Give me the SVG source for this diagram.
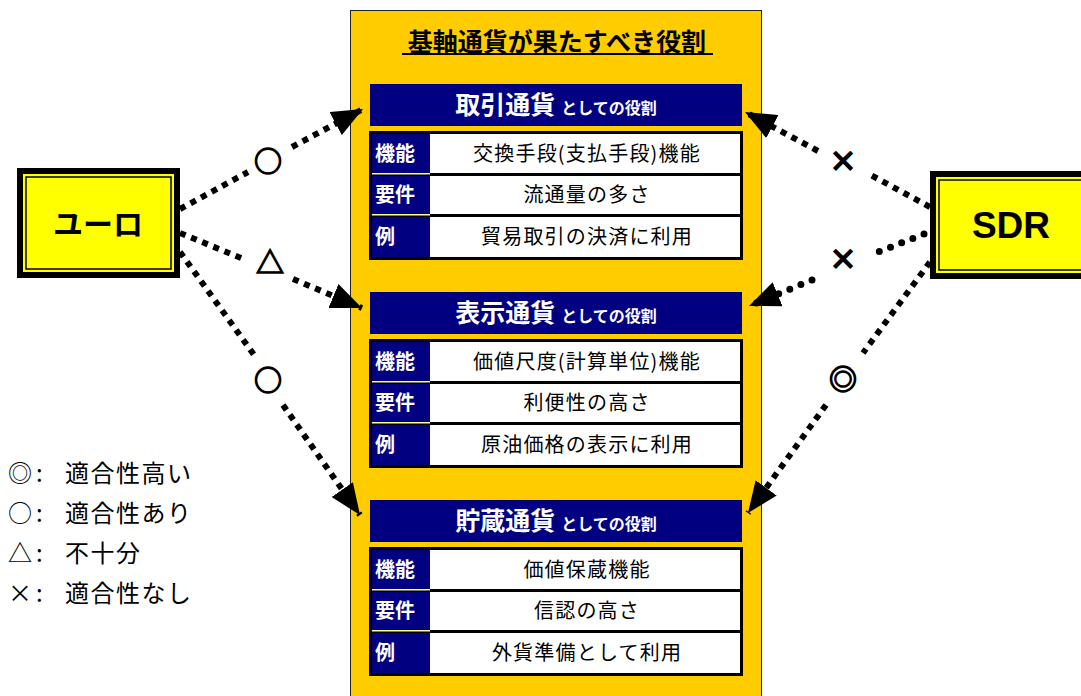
<svg xmlns="http://www.w3.org/2000/svg" width="1081" height="696" viewBox="0 0 1081 696">
<style>
.jp{font-family:"Noto Sans CJK JP","Liberation Sans",sans-serif;}
.title{font-size:25px;font-weight:bold;fill:#000;}
.hbig{font-size:25px;font-weight:bold;fill:#fff;}
.hsmall{font-size:16px;font-weight:bold;fill:#fff;}
.lab{font-size:20px;font-weight:bold;fill:#fff;}
.cell{font-size:20px;fill:#000;letter-spacing:1.2px;}
.leg{font-size:24px;fill:#000;letter-spacing:1.5px;}
.sym{font-size:28px;font-weight:bold;fill:#000;stroke:#000;stroke-width:1.3px;}
.sq{fill:none;stroke:#000;stroke-width:6;stroke-dasharray:6 6;}
.dot{fill:none;stroke:#000;stroke-width:7;stroke-linecap:round;stroke-dasharray:0 12;}
.navy{fill:#000080;}
.sep{fill:#FFFF80;}
</style>
<defs>
<marker id="ah" markerUnits="userSpaceOnUse" markerWidth="32" markerHeight="26" refX="31" refY="13" orient="auto">
<path d="M0,0 L31,13 L0,26 z" fill="#000"/>
</marker>
</defs>
<rect width="1081" height="696" fill="#fff"/>

<g id="panel">
<rect x="350.5" y="10.5" width="411" height="700" fill="#FFCC00" stroke="#222" stroke-width="1"/>
<text class="jp title" x="557" y="51" text-anchor="middle">基軸通貨が果たすべき役割</text>
<line x1="402" y1="54" x2="713" y2="54" stroke="#000" stroke-width="2"/>
</g>

<g id="role-torihiki">
<rect class="navy" x="370" y="84" width="372" height="42"/>
<text class="jp" x="556" y="114" text-anchor="middle"><tspan class="hbig">取引通貨</tspan><tspan class="hsmall" dx="6">としての役割</tspan></text>
<rect x="369" y="131" width="374" height="129" fill="#000"/>
<rect class="navy" x="372" y="134" width="58" height="39"/>
<rect x="430" y="134" width="310" height="39" fill="#fff"/>
<rect class="sep" x="372" y="173" width="58" height="1.5"/>
<rect class="navy" x="372" y="176" width="58" height="38"/>
<rect x="430" y="176" width="310" height="38" fill="#fff"/>
<rect class="sep" x="372" y="214" width="58" height="1.5"/>
<rect class="navy" x="372" y="217" width="58" height="40"/>
<rect x="430" y="217" width="310" height="40" fill="#fff"/>
<text class="jp lab" x="375" y="161">機能</text>
<text class="jp lab" x="375" y="202">要件</text>
<text class="jp lab" x="375" y="244">例</text>
<text class="jp cell" x="587" y="161" text-anchor="middle">交換手段(支払手段)機能</text>
<text class="jp cell" x="587" y="202" text-anchor="middle">流通量の多さ</text>
<text class="jp cell" x="587" y="244" text-anchor="middle">貿易取引の決済に利用</text>
</g>

<g id="role-hyoji">
<rect class="navy" x="370" y="292" width="372" height="42"/>
<text class="jp" x="556" y="322" text-anchor="middle"><tspan class="hbig">表示通貨</tspan><tspan class="hsmall" dx="6">としての役割</tspan></text>
<rect x="369" y="339" width="374" height="129" fill="#000"/>
<rect class="navy" x="372" y="342" width="58" height="39"/>
<rect x="430" y="342" width="310" height="39" fill="#fff"/>
<rect class="sep" x="372" y="381" width="58" height="1.5"/>
<rect class="navy" x="372" y="384" width="58" height="38"/>
<rect x="430" y="384" width="310" height="38" fill="#fff"/>
<rect class="sep" x="372" y="422" width="58" height="1.5"/>
<rect class="navy" x="372" y="425" width="58" height="40"/>
<rect x="430" y="425" width="310" height="40" fill="#fff"/>
<text class="jp lab" x="375" y="369">機能</text>
<text class="jp lab" x="375" y="410">要件</text>
<text class="jp lab" x="375" y="452">例</text>
<text class="jp cell" x="587" y="369" text-anchor="middle">価値尺度(計算単位)機能</text>
<text class="jp cell" x="587" y="410" text-anchor="middle">利便性の高さ</text>
<text class="jp cell" x="587" y="452" text-anchor="middle">原油価格の表示に利用</text>
</g>

<g id="role-chozo">
<rect class="navy" x="370" y="500" width="372" height="42"/>
<text class="jp" x="556" y="530" text-anchor="middle"><tspan class="hbig">貯蔵通貨</tspan><tspan class="hsmall" dx="6">としての役割</tspan></text>
<rect x="369" y="547" width="374" height="129" fill="#000"/>
<rect class="navy" x="372" y="550" width="58" height="39"/>
<rect x="430" y="550" width="310" height="39" fill="#fff"/>
<rect class="sep" x="372" y="589" width="58" height="1.5"/>
<rect class="navy" x="372" y="592" width="58" height="38"/>
<rect x="430" y="592" width="310" height="38" fill="#fff"/>
<rect class="sep" x="372" y="630" width="58" height="1.5"/>
<rect class="navy" x="372" y="633" width="58" height="40"/>
<rect x="430" y="633" width="310" height="40" fill="#fff"/>
<text class="jp lab" x="375" y="577">機能</text>
<text class="jp lab" x="375" y="618">要件</text>
<text class="jp lab" x="375" y="660">例</text>
<text class="jp cell" x="587" y="577" text-anchor="middle">価値保蔵機能</text>
<text class="jp cell" x="587" y="618" text-anchor="middle">信認の高さ</text>
<text class="jp cell" x="587" y="660" text-anchor="middle">外貨準備として利用</text>
</g>

<g id="euro">
<rect x="20" y="171" width="157" height="104" fill="#FFFF00" stroke="#000" stroke-width="6"/>
<rect x="26" y="177" width="145" height="92" fill="none" stroke="#000" stroke-width="1.5"/>
<text class="jp" x="98" y="235" text-anchor="middle" font-size="30" font-weight="bold">ユーロ</text>
</g>

<g id="sdr">
<rect x="933" y="174" width="160" height="102" fill="#FFFF00" stroke="#000" stroke-width="6"/>
<rect x="939" y="180" width="150" height="90" fill="none" stroke="#000" stroke-width="1.5"/>
<text x="1011" y="238" text-anchor="middle" font-family="Liberation Sans, Arial, sans-serif" font-size="37" font-weight="bold">SDR</text>
</g>

<g id="connectors">
<path class="sq" d="M180,209 L248,172"/>
<path class="sq" d="M292,147 L363,109" marker-end="url(#ah)"/>
<text class="jp sym" x="268" y="172" text-anchor="middle">○</text>

<path class="sq" d="M180,233 L246,260"/>
<path class="sq" d="M293,279 L362,308" marker-end="url(#ah)"/>
<text class="jp sym" x="270" y="273" text-anchor="middle">△</text>

<path class="sq" d="M180,252 L257,359"/>
<path class="sq" d="M283,405 L360,515" marker-end="url(#ah)"/>
<text class="jp sym" x="268" y="391" text-anchor="middle">○</text>

<path class="sq" d="M930,207 L867,173"/>
<path class="sq" d="M818,151 L745,112" marker-end="url(#ah)"/>
<text class="jp sym" x="843" y="172" text-anchor="middle">×</text>

<path class="dot" d="M924,234 L873,254"/>
<path class="dot" d="M812,280 L749,306" marker-end="url(#ah)"/>
<text class="jp sym" x="843" y="270" text-anchor="middle">×</text>

<path class="sq" d="M930,262 L863,353"/>
<path class="sq" d="M826,405 L748,513" marker-end="url(#ah)"/>
<text class="jp sym" x="843" y="390" text-anchor="middle">◎</text>
</g>

<g id="legend">
<text class="jp leg" y="482"><tspan x="8">◎</tspan><tspan x="36">:</tspan><tspan x="65">適合性高い</tspan></text>
<text class="jp leg" y="522"><tspan x="8">○</tspan><tspan x="36">:</tspan><tspan x="65">適合性あり</tspan></text>
<text class="jp leg" y="562"><tspan x="8">△</tspan><tspan x="36">:</tspan><tspan x="65">不十分</tspan></text>
<text class="jp leg" y="602"><tspan x="8">×</tspan><tspan x="36">:</tspan><tspan x="65">適合性なし</tspan></text>
</g>
</svg>
